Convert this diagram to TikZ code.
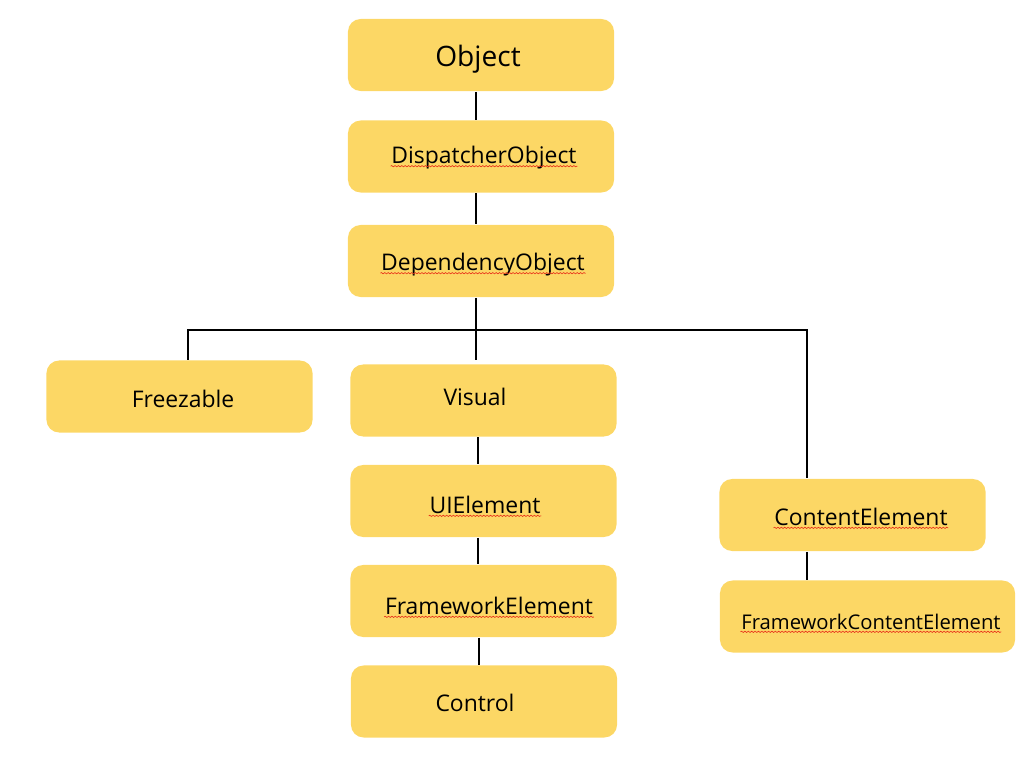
\documentclass[tikz,border=0pt]{standalone}
\usepackage{fontspec}
\setmainfont{Open Sans}
\usetikzlibrary{positioning, decorations.pathmorphing}
\definecolor{cyellow}{HTML}{FCD765}
\definecolor{cline}{HTML}{000000}
\definecolor{cspell}{HTML}{E8311A}
\tikzset{
  every picture/.style={line width=1.2pt},
  box/.style={fill=cyellow, rounded corners=9pt, minimum width=6.65cm, minimum height=1.8cm, inner sep=0pt},
  lbl/.style={inner sep=0pt, font=\fontsize{16.3}{19}\selectfont, text=black},
  link/.style={draw=cline, line width=1.2pt},
  squig/.style={draw=cspell, line width=0.45pt, decorate, decoration={snake, amplitude=0.45pt, segment length=2.4pt}},
}

\begin{document}
\begin{tikzpicture}[x=0.025cm, y=-0.025cm]
  \useasboundingbox (0,0) rectangle (1034,764);
  % boxes
  \node[box] (obj) at (481,55) {};
  \node[box] (disp) at (481,156.5) {};
  \node[box] (dep) at (481,261) {};
  \node[box] (frz) at (179.5,396.5) {};
  \node[box] (vis) at (483.5,400.5) {};
  \node[box] (uie) at (483.5,501) {};
  \node[box] (fwe) at (483.5,601) {};
  \node[box] (ctl) at (484,701.5) {};
  \node[box] (ce) at (852.5,515) {};
  \node[box, minimum width=7.375cm] (fce) at (867.5,616.5) {};
  % texts
  \node[lbl, font=\fontsize{20}{24}\selectfont] (objT) at (478,59) {Object};
  \node[lbl] (dispT) at (484,158) {DispatcherObject};
  \node[lbl] (depT) at (483,265) {DependencyObject};
  \node[lbl] (frzT) at (183,399) {Freezable};
  \node[lbl] (visT) at (475,397) {Visual};
  \node[lbl] (uieT) at (485,505) {UIElement};
  \node[lbl] (fweT) at (489,606) {FrameworkElement};
  \node[lbl] (ctlT) at (475,703) {Control};
  \node[lbl] (ceT) at (861,517) {ContentElement};
  \node[lbl, font=\fontsize{14.4}{17}\selectfont] (fceT) at (871,622) {FrameworkContentElement};
  \foreach \t in {dispT, depT, uieT, fweT, ceT, fceT}
    \draw[squig] ([yshift=-1.6pt]\t.base west) -- ([yshift=-1.6pt]\t.base east);
  % connectors
  \coordinate (jl) at (188,330);
  \coordinate (jm) at (476,330);
  \coordinate (jr) at (807,330);
  \draw[link] (obj.south -| jm) -- (disp.north -| jm);
  \draw[link] (disp.south -| jm) -- (dep.north -| jm);
  \draw[link] (dep.south -| jm) -- ([yshift=0.08cm]vis.north -| jm);
  \draw[link] (frz.north -| jl) -- (jl) -- (jr) -- (ce.north -| jr);
  \draw[link] (vis.south -| 478,0) -- (uie.north -| 478,0);
  \draw[link] (uie.south -| 478,0) -- (fwe.north -| 478,0);
  \draw[link] (fwe.south -| 479,0) -- (ctl.north -| 479,0);
  \draw[link] (ce.south -| jr) -- (fce.north -| jr);
\end{tikzpicture}
\end{document}
